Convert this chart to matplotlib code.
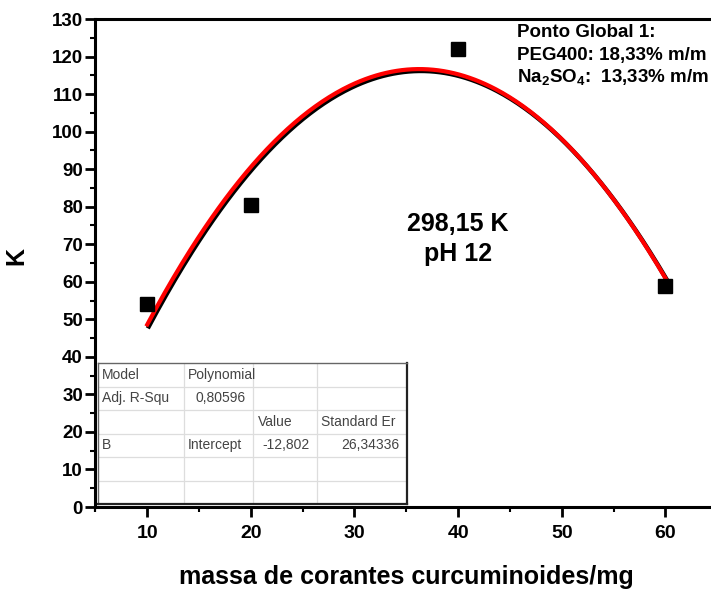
import numpy as np
import matplotlib
matplotlib.use('Agg')
import matplotlib.pyplot as plt

plt.rcParams['font.family'] = ['Liberation Sans', 'DejaVu Sans']
plt.rcParams['mathtext.fontset'] = 'custom'
plt.rcParams['mathtext.rm'] = 'Liberation Sans:bold'
plt.rcParams['mathtext.bf'] = 'Liberation Sans:bold'

# measured points
massa = [10, 20, 40, 60]
k_vals = [54, 80.5, 122, 59]

x_ticks = [10, 20, 30, 40, 50, 60]
y_ticks = list(range(0, 131, 10))

# fit result table (Origin style)
tab_rows = [
    ['Model', 'Polynomial', '', ''],
    ['Adj. R-Squ', '0,80596', '', ''],
    ['', '', 'Value', 'Standard Er'],
    ['B', 'Intercept', '-12,802', '26,34336'],
    ['', '', '', ''],
    ['', '', '', ''],
]
tab_align = [
    ['l', 'l', 'l', 'l'],
    ['l', 'r', 'l', 'l'],
    ['l', 'l', 'l', 'l'],
    ['l', 'l', 'r', 'r'],
    ['l', 'l', 'l', 'l'],
    ['l', 'l', 'l', 'l'],
]
col_edges = [0, 0.2774, 0.5032, 0.7097, 1.0]

fig = plt.figure(figsize=(7.11, 5.89), dpi=100)
ax = fig.add_axes([0.1343, 0.1392, 0.8743, 0.8285])

# quadratic fit
coef = np.polyfit(massa, k_vals, 2)
xf = np.linspace(10, 60, 300)
yf = np.polyval(coef, xf)
ax.plot(xf + 0.15, yf - 0.5, color='black', lw=3.2, zorder=2)
ax.plot(xf, yf, color='red', lw=3.0, zorder=3)
ax.plot(massa, k_vals, 's', color='black', ms=9.5, zorder=4)

ax.set_xlim(5, 65)
ax.set_ylim(0, 130)
ax.set_xticks(x_ticks)
ax.set_yticks(y_ticks)
ax.set_xticks([t + 5 for t in [0] + x_ticks[:-1]] + [5], minor=True)
ax.set_yticks([t + 5 for t in y_ticks[:-1]], minor=True)
for s in ax.spines.values():
    s.set_linewidth(2.2)
ax.tick_params(which='major', direction='out', length=7, width=2.0,
               labelsize=14)
ax.tick_params(axis='y', which='major', pad=2, labelsize=13.5)
ax.tick_params(axis='x', which='major', pad=6)
ax.tick_params(which='minor', direction='out', length=3.5, width=1.5)
for lab in ax.get_xticklabels() + ax.get_yticklabels():
    lab.set_fontweight('bold')

ax.set_xlabel('massa de corantes curcuminoides/mg', fontsize=18,
              fontweight='bold')
ax.xaxis.set_label_coords(0.5, -0.118)
ax.set_ylabel('K', fontsize=18, fontweight='bold')
ax.yaxis.set_label_coords(-0.108, 0.515)

ax.text(0.583, 0.549, '298,15 K\npH 12', transform=ax.transAxes,
        ha='center', va='center', fontsize=18, fontweight='bold',
        linespacing=1.3)

ax.text(0.678, 0.963, 'Ponto Global 1:', transform=ax.transAxes,
        fontsize=13.5, fontweight='bold', va='baseline')
ax.text(0.678, 0.916, 'PEG400: 18,33% m/m', transform=ax.transAxes,
        fontsize=13.5, fontweight='bold', va='baseline')
ax.text(0.678, 0.869, r'Na$_{2}$SO$_{4}$:  13,33% m/m',
        transform=ax.transAxes, fontsize=13.5, fontweight='bold',
        va='baseline')

# inset table
tax = fig.add_axes([0.1378, 0.1443, 0.4346, 0.2394])
tax.set_xlim(0, 1)
tax.set_ylim(0, 1)
tax.set_xticks([])
tax.set_yticks([])
tax.set_facecolor('white')
for name, s in tax.spines.items():
    s.set_color('#222222' if name in ('right', 'bottom') else '#666666')
    s.set_linewidth(1.6 if name in ('right', 'bottom') else 1.0)
n_rows = len(tab_rows)
row_h = 1.0 / n_rows
for i in range(1, n_rows):
    tax.axhline(1 - i * row_h, color='#dddddd', lw=0.9)
for c in col_edges[1:-1]:
    tax.axvline(c, color='#dddddd', lw=0.9)
for i, row in enumerate(tab_rows):
    yc = 1 - (i + 0.5) * row_h
    for j, txt in enumerate(row):
        if not txt:
            continue
        if tab_align[i][j] == 'r':
            tax.text(col_edges[j + 1] - 0.025, yc, txt, ha='right',
                     va='center', fontsize=10, color='#444444')
        else:
            tax.text(col_edges[j] + 0.013, yc, txt, ha='left',
                     va='center', fontsize=10, color='#444444')

fig.savefig('out.png', dpi=100)
